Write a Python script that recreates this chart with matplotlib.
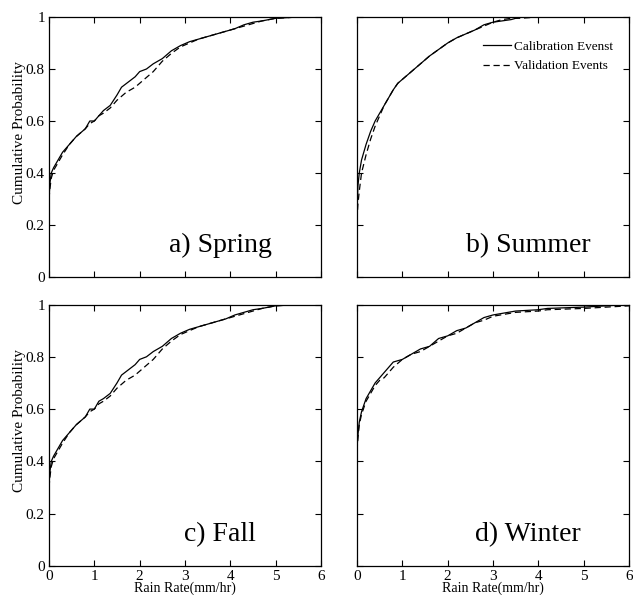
import matplotlib
matplotlib.use("Agg")
import matplotlib.pyplot as plt

plt.rcParams['font.family'] = ['Liberation Serif', 'DejaVu Serif']

# ---- data ----
spring_cal_x = [0, 0.02, 0.05, 0.1, 0.2, 0.3, 0.45, 0.6, 0.8, 0.9, 1.0, 1.1, 1.2, 1.35, 1.5, 1.6, 1.75, 1.9, 2.0, 2.15, 2.3, 2.5, 2.7, 2.9, 3.1, 3.3, 3.5, 3.7, 3.9, 4.1, 4.3, 4.5, 4.7, 5.0, 5.5]
spring_cal_y = [0.30, 0.36, 0.40, 0.42, 0.45, 0.48, 0.51, 0.54, 0.57, 0.60, 0.60, 0.62, 0.64, 0.66, 0.70, 0.73, 0.75, 0.77, 0.79, 0.80, 0.82, 0.84, 0.87, 0.89, 0.905, 0.915, 0.925, 0.935, 0.945, 0.955, 0.97, 0.98, 0.985, 0.995, 1.0]
spring_val_x = [0, 0.02, 0.05, 0.1, 0.2, 0.3, 0.45, 0.6, 0.8, 0.9, 1.0, 1.1, 1.2, 1.35, 1.5, 1.7, 1.9, 2.1, 2.3, 2.5, 2.7, 2.9, 3.1, 3.3, 3.5, 3.7, 3.9, 4.1, 4.3, 4.5, 4.7, 5.0, 5.5]
spring_val_y = [0.30, 0.34, 0.38, 0.41, 0.44, 0.47, 0.51, 0.54, 0.57, 0.59, 0.60, 0.62, 0.63, 0.65, 0.68, 0.71, 0.73, 0.76, 0.79, 0.83, 0.86, 0.885, 0.90, 0.915, 0.925, 0.935, 0.945, 0.955, 0.965, 0.975, 0.985, 0.995, 1.0]

summer_cal_x = [0, 0.02, 0.05, 0.1, 0.2, 0.3, 0.4, 0.5, 0.6, 0.7, 0.8, 0.9, 1.0, 1.2, 1.4, 1.6, 1.8, 2.0, 2.2, 2.4, 2.6, 2.8, 3.0, 3.2, 3.4, 3.6, 4.0]
summer_cal_y = [0.24, 0.35, 0.40, 0.45, 0.51, 0.56, 0.60, 0.63, 0.66, 0.69, 0.72, 0.745, 0.76, 0.79, 0.82, 0.85, 0.875, 0.90, 0.92, 0.935, 0.95, 0.97, 0.98, 0.985, 0.99, 1.0, 1.0]
summer_val_x = [0, 0.02, 0.05, 0.1, 0.2, 0.3, 0.4, 0.5, 0.6, 0.7, 0.8, 0.9, 1.0, 1.2, 1.4, 1.6, 1.8, 2.0, 2.2, 2.4, 2.6, 2.8, 3.0, 3.2, 3.4, 3.6, 4.0]
summer_val_y = [0.22, 0.28, 0.33, 0.40, 0.47, 0.53, 0.58, 0.62, 0.66, 0.69, 0.72, 0.745, 0.76, 0.79, 0.82, 0.85, 0.875, 0.90, 0.92, 0.935, 0.95, 0.965, 0.98, 0.99, 0.995, 0.995, 1.0]

fall_cal_x = [0, 0.02, 0.05, 0.1, 0.2, 0.3, 0.45, 0.6, 0.8, 0.9, 1.0, 1.1, 1.2, 1.35, 1.5, 1.6, 1.75, 1.9, 2.0, 2.15, 2.3, 2.5, 2.7, 2.9, 3.1, 3.3, 3.5, 3.7, 3.9, 4.1, 4.3, 4.5, 4.7, 5.0, 5.5]
fall_cal_y = [0.31, 0.36, 0.40, 0.42, 0.45, 0.48, 0.51, 0.54, 0.57, 0.60, 0.60, 0.63, 0.64, 0.66, 0.70, 0.73, 0.75, 0.77, 0.79, 0.80, 0.82, 0.84, 0.87, 0.89, 0.905, 0.915, 0.925, 0.935, 0.945, 0.96, 0.97, 0.98, 0.985, 0.995, 1.0]
fall_val_x = [0, 0.02, 0.05, 0.1, 0.2, 0.3, 0.45, 0.6, 0.8, 0.9, 1.0, 1.1, 1.2, 1.35, 1.5, 1.7, 1.9, 2.1, 2.3, 2.5, 2.7, 2.9, 3.1, 3.3, 3.5, 3.7, 3.9, 4.1, 4.3, 4.5, 4.7, 5.0, 5.5]
fall_val_y = [0.30, 0.34, 0.38, 0.41, 0.44, 0.47, 0.51, 0.54, 0.57, 0.59, 0.60, 0.62, 0.63, 0.65, 0.68, 0.71, 0.73, 0.76, 0.79, 0.83, 0.86, 0.885, 0.90, 0.915, 0.925, 0.935, 0.945, 0.955, 0.965, 0.975, 0.985, 0.995, 1.0]

winter_cal_x = [0, 0.02, 0.05, 0.1, 0.2, 0.3, 0.4, 0.5, 0.6, 0.7, 0.8, 1.0, 1.2, 1.4, 1.6, 1.8, 2.0, 2.2, 2.4, 2.6, 2.8, 3.0, 3.5, 4.0, 4.2, 5.0, 6.0]
winter_cal_y = [0.45, 0.50, 0.55, 0.59, 0.64, 0.67, 0.70, 0.72, 0.74, 0.76, 0.78, 0.79, 0.81, 0.83, 0.84, 0.87, 0.88, 0.90, 0.91, 0.93, 0.95, 0.96, 0.975, 0.98, 0.985, 0.99, 1.0]
winter_val_x = [0, 0.02, 0.05, 0.1, 0.2, 0.3, 0.4, 0.5, 0.6, 0.7, 0.8, 1.0, 1.2, 1.4, 1.6, 1.8, 2.0, 2.2, 2.4, 2.6, 2.8, 3.0, 3.5, 4.0, 4.2, 5.0, 6.0]
winter_val_y = [0.44, 0.49, 0.54, 0.58, 0.63, 0.66, 0.69, 0.71, 0.72, 0.74, 0.76, 0.79, 0.81, 0.82, 0.84, 0.86, 0.88, 0.89, 0.91, 0.93, 0.94, 0.955, 0.97, 0.975, 0.98, 0.985, 0.995]

panel_labels = ["a) Spring", "b) Summer", "c) Fall", "d) Winter"]
legend_labels = ["Calibration Evenst", "Validation Events"]
x_ticks = [0, 1, 2, 3, 4, 5, 6]
y_ticks = [0, 0.2, 0.4, 0.6, 0.8, 1]
y_tick_labels = ["0", "0.2", "0.4", "0.6", "0.8", "1"]

series = [
    (spring_cal_x, spring_cal_y, spring_val_x, spring_val_y),
    (summer_cal_x, summer_cal_y, summer_val_x, summer_val_y),
    (fall_cal_x, fall_cal_y, fall_val_x, fall_val_y),
    (winter_cal_x, winter_cal_y, winter_val_x, winter_val_y),
]

fig = plt.figure(figsize=(6.33, 5.95), dpi=100)
W, H = 633, 595
lefts = [49, 357]
axw = 272
tops = [17, 304.5]
axh = [260, 261.5]

axes = []
for r in range(2):
    for c in range(2):
        ax = fig.add_axes([lefts[c] / W, 1 - (tops[r] + axh[r]) / H, axw / W, axh[r] / H])
        axes.append(ax)

for i, ax in enumerate(axes):
    cx, cy, vx, vy = series[i]
    ax.plot(cx, cy, color='black', lw=0.9, ls='-', label=legend_labels[0])
    ax.plot(vx, vy, color='black', lw=0.9, ls=(0, (5, 3)), label=legend_labels[1])
    ax.set_xlim(0, 6)
    ax.set_ylim(0, 1)
    ax.set_xticks(x_ticks)
    ax.set_yticks(y_ticks)
    ax.set_yticklabels(y_tick_labels)
    ax.tick_params(direction='in', top=True, right=True, length=4, width=0.8,
                   labelsize=11, pad=3)
    for s in ax.spines.values():
        s.set_linewidth(0.9)
    r, c = divmod(i, 2)
    if r == 0:
        ax.set_xticklabels([])
    else:
        ax.set_xlabel("Rain Rate(mm/hr)", fontsize=10, labelpad=-1)
    if c == 1:
        ax.set_yticklabels([])
    else:
        ax.set_ylabel("Cumulative Probability", fontsize=11, labelpad=1)
        ax.yaxis.set_label_coords(-0.085, 0.555)
    ax.text(0.63, 0.12, panel_labels[i], transform=ax.transAxes, fontsize=20,
            ha='center', va='center')

axes[1].legend(loc='upper right', bbox_to_anchor=(0.94, 0.91), frameon=False,
               fontsize=9.5, handlelength=2.1, handletextpad=0.2,
               labelspacing=0.55, borderaxespad=0, borderpad=0)

fig.savefig("out.png", dpi=100)
